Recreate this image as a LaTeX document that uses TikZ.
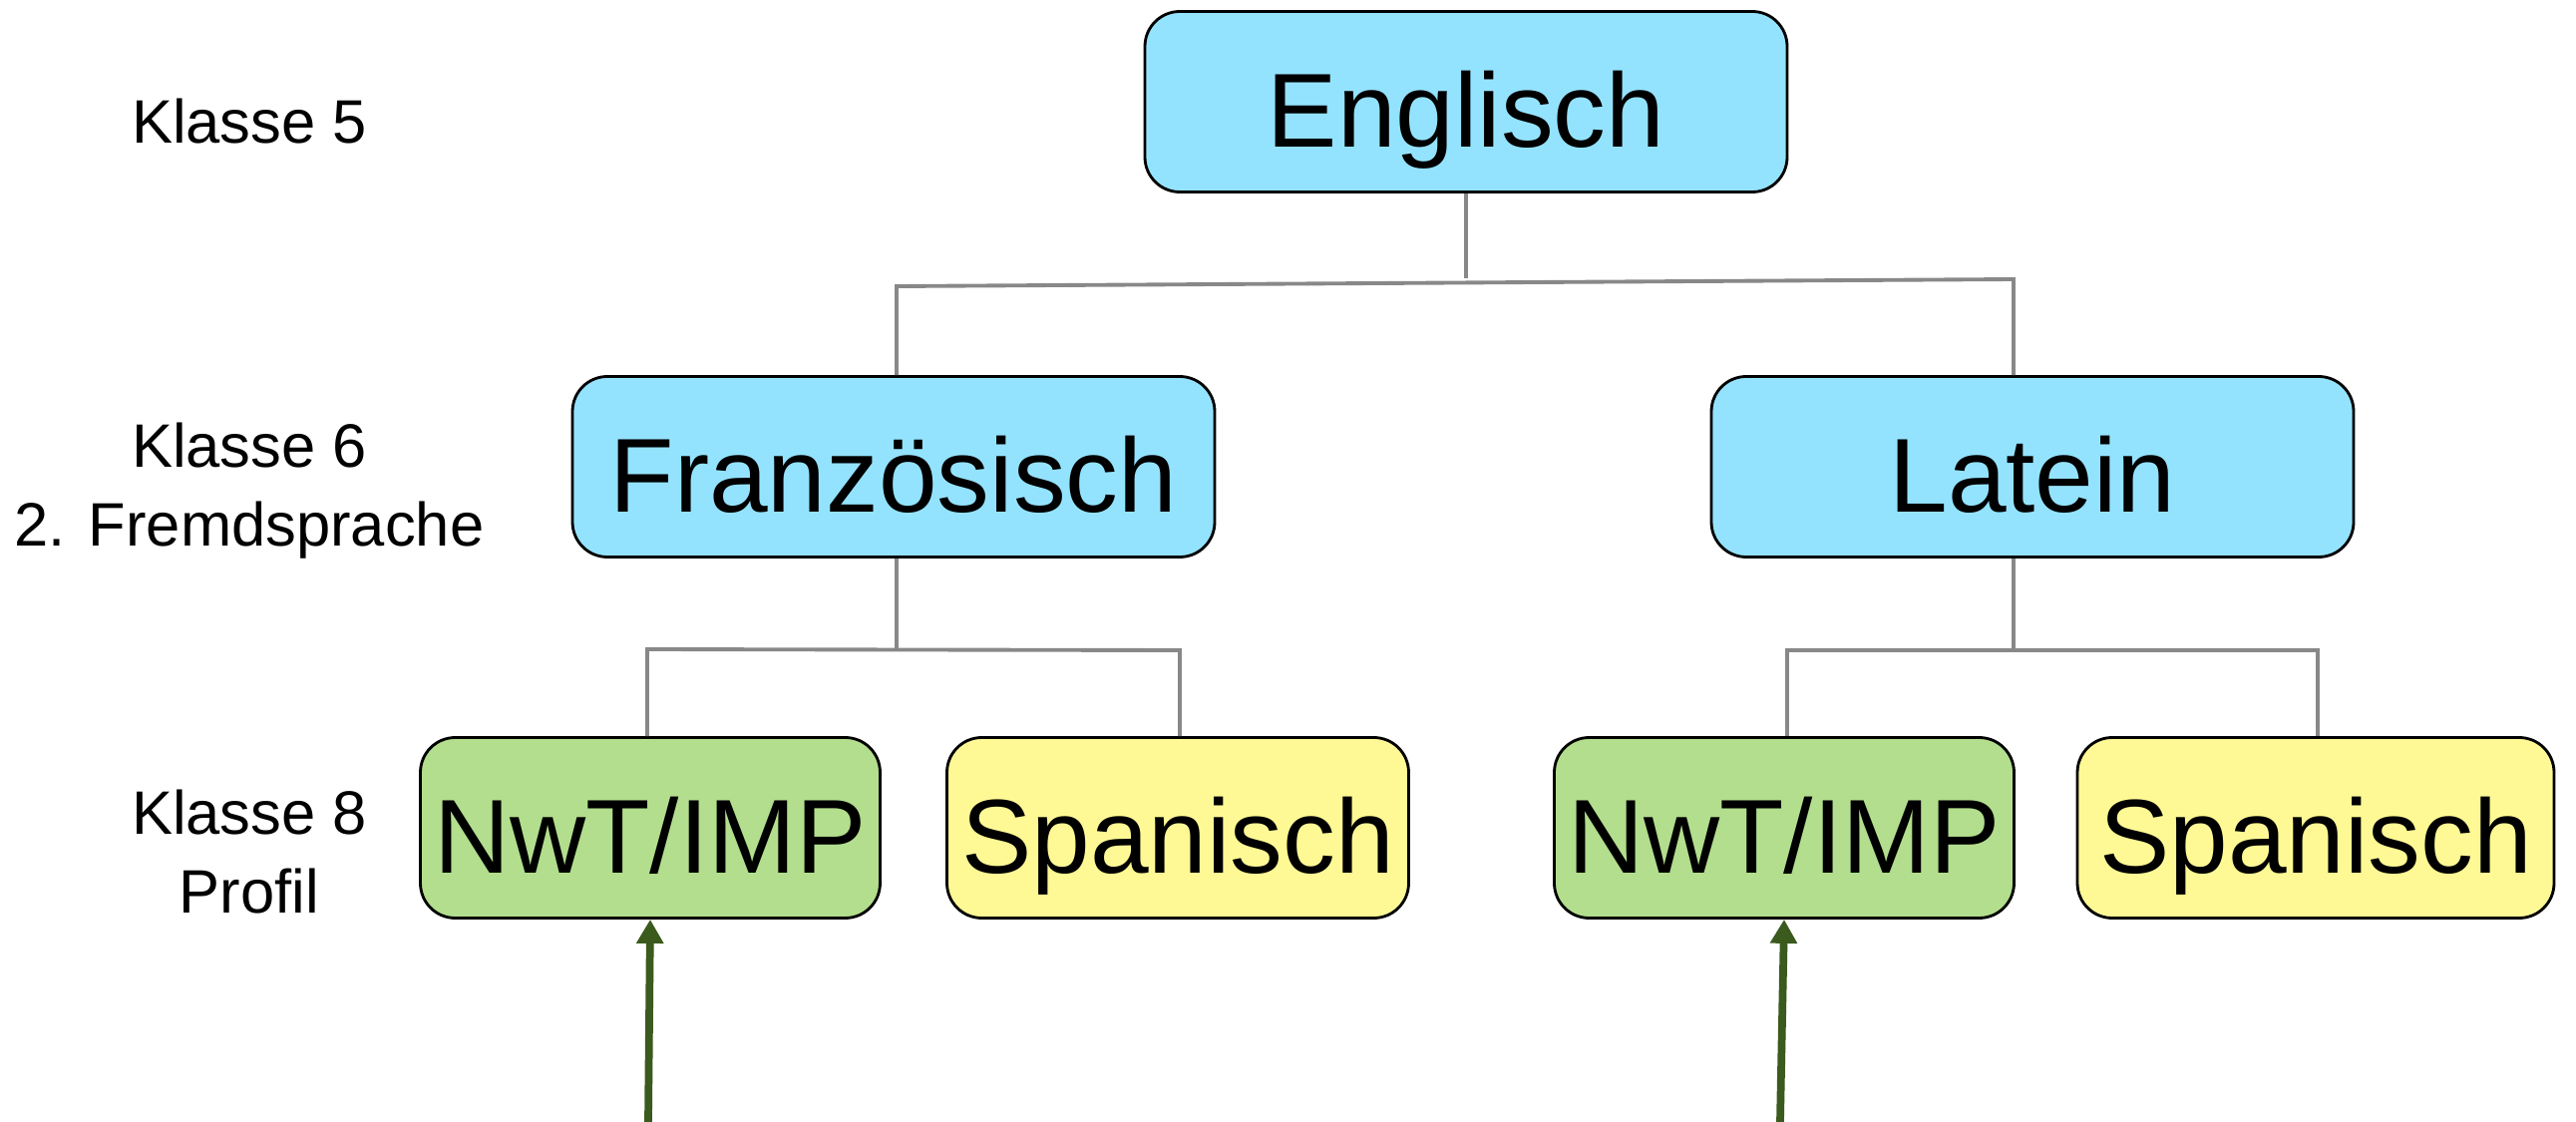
\documentclass[tikz,border=0pt]{standalone}
\usepackage{fontspec}
\setmainfont{Liberation Sans}
\usetikzlibrary{arrows.meta}
\definecolor{boxblue}{HTML}{94E3FE}
\definecolor{boxgreen}{HTML}{B2DE8D}
\definecolor{boxyellow}{HTML}{FEF995}
\definecolor{arrowgreen}{HTML}{3B5A1E}
\definecolor{linegray}{HTML}{888888}
\tikzset{
  fach/.style={draw=black, line width=0.8pt, rounded corners=0.35cm,
    minimum height=1.81cm, inner sep=0pt, text height=1.0cm, text depth=0.09cm,
    font=\fontsize{30}{36}\selectfont},
  klasse/.style={align=center, font=\fontsize{17.5}{22.5}\selectfont},
  conn/.style={draw=linegray, line width=1.1pt},
  profil/.style={draw=arrowgreen, line width=2.2pt, -{Triangle[width=0.26cm,length=0.24cm]}}
}
\begin{document}
\begin{tikzpicture}[x=0.1mm, y=-0.1mm]
    \useasboundingbox (0,0) rectangle (2583,1125);
    \node[klasse] (K0) at (250, 122) {Klasse 5};
    \node[klasse] (K1) at (250, 492) {Klasse 6\\2. Fremdsprache};
    \node[klasse] (K2) at (250, 854) {Klasse 8\\Profil};
    \node[fach, fill=boxblue, minimum width=6.44cm] (A0_0) at (1470, 102) {Englisch};
    \node[fach, fill=boxblue, minimum width=6.44cm] (A1_0) at (896, 468) {Französisch};
    \node[fach, fill=boxblue, minimum width=6.44cm] (A1_1) at (2038, 468) {Latein};
    \node[fach, fill=boxgreen, minimum width=4.61cm] (A2_0) at (652, 830) {NwT/IMP};
    \node[fach, fill=boxyellow, minimum width=4.63cm] (A2_1) at (1181, 830) {Spanisch};
    \node[fach, fill=boxgreen, minimum width=4.61cm] (A2_2) at (1789, 830) {NwT/IMP};
    \node[fach, fill=boxyellow, minimum width=4.78cm] (A2_3) at (2322, 830) {Spanisch};
    \coordinate (c1) at (899, 287);
    \coordinate (c2) at (2019, 280);
    \coordinate (c3) at (649, 651);
    \coordinate (c4) at (1183, 652);
    \coordinate (c5) at (1792, 652);
    \coordinate (c6) at (2324, 652);
    \coordinate (p0) at (650, 1125);
    \coordinate (p1) at (1785, 1125);
    \draw[conn] (A0_0.south) -- ++(0, 85);
    \draw[conn] (A1_0.north -| c1) -- (c1) -- (c2) -- (c2 |- A1_1.north);
    \draw[conn] (A1_0.south -| c1) -- ++(0, 91);
    \draw[conn] (A2_0.north -| c3) -- (c3) -- (c4) -- (c4 |- A2_1.north);
    \draw[conn] (A1_1.south -| c2) -- ++(0, 91);
    \draw[conn] (A2_2.north -| c5) -- (c5) -- (c6) -- (c6 |- A2_3.north);
    \path (p0) edge [profil] (A2_0.south);
    \path (p1) edge [profil] (A2_2.south);
  \end{tikzpicture}
\end{document}
